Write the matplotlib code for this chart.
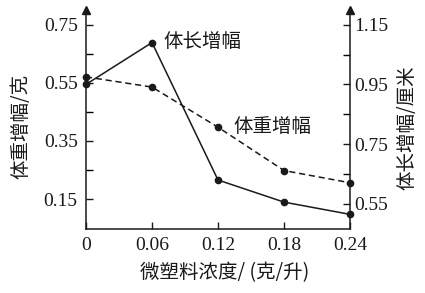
import matplotlib
matplotlib.use("Agg")
import matplotlib.pyplot as plt
from matplotlib.ticker import FixedLocator

plt.rcParams['font.family'] = ['Liberation Serif', 'Noto Sans CJK SC', 'DejaVu Sans']

conc = [0, 0.06, 0.12, 0.18, 0.24]
weight_gain = [0.57, 0.535, 0.397, 0.248, 0.206]   # left axis, g
length_gain = [0.95, 1.09, 0.63, 0.556, 0.515]     # right axis, cm
x_ticks = [0, 0.06, 0.12, 0.18, 0.24]
x_labels = ['0', '0.06', '0.12', '0.18', '0.24']
left_ticks = [0.15, 0.35, 0.55, 0.75]
right_ticks = [0.55, 0.75, 0.95, 1.15]

cjk = ['Noto Sans CJK SC', 'DejaVu Sans']
W, H = 425, 293

fig = plt.figure(figsize=(4.25, 2.93), dpi=100)
ax = fig.add_axes([86/W, 1-229/H, (350-86)/W, (229-10)/H])
ax2 = ax.twinx()

ax.plot(conc, weight_gain, color='#1a1a1a', lw=1.1, linestyle=(0, (4, 2.5)),
        marker='o', ms=4.5, clip_on=False, zorder=3)
ax2.plot(conc, length_gain, color='#1a1a1a', lw=1.1, linestyle='-',
         marker='o', ms=4.5, clip_on=False, zorder=3)

ax.set_xlim(0, 0.24)
ax.set_ylim(0.047, 0.80)
ax2.set_ylim(0.466, 1.199)

ax.set_xticks(x_ticks)
ax.set_xticklabels(x_labels)
ax.set_yticks(left_ticks)
ax.yaxis.set_minor_locator(FixedLocator([0.25, 0.45, 0.65]))
ax2.set_yticks(right_ticks)
ax2.yaxis.set_minor_locator(FixedLocator([0.65, 0.85, 1.05]))

for a in (ax, ax2):
    a.tick_params(direction='in', length=5, width=1, labelsize=14, colors='#1a1a1a')
    a.tick_params(which='minor', direction='in', length=5, width=1)
    for s in a.spines.values():
        s.set_color('#1a1a1a')
        s.set_linewidth(1.1)
    a.spines['top'].set_visible(False)
ax.tick_params(axis='y', pad=6)
ax.tick_params(axis='x', pad=6)
ax2.tick_params(axis='y', pad=3)
ax2.spines['left'].set_visible(False)
ax2.spines['bottom'].set_visible(False)
ax.spines['right'].set_visible(False)

# arrows at top of vertical axes
for xa in (0, 1):
    ax.plot(xa, 1.0, marker='^', color='#1a1a1a', ms=6, transform=ax.transAxes,
            clip_on=False, zorder=5)

fig.text(21/W, 1-126/H, '体重增幅/克', fontsize=14, family=cjk, color='#1a1a1a',
         rotation=90, ha='center', va='center')
fig.text(407/W, 1-128/H, '体长增幅/厘米', fontsize=14, family=cjk, color='#1a1a1a',
         rotation=90, ha='center', va='center')
fig.text(225/W, 1-273/H, '微塑料浓度/ (克/升)', fontsize=14, family=cjk, color='#1a1a1a',
         ha='center', va='center')

ax2.text(0.070, 1.093, '体长增幅', fontsize=14, family=cjk, va='center', ha='left', color='#1a1a1a')
ax.text(0.1336, 0.398, '体重增幅', fontsize=14, family=cjk, va='center', ha='left', color='#1a1a1a')

fig.savefig('out.png', dpi=100)
